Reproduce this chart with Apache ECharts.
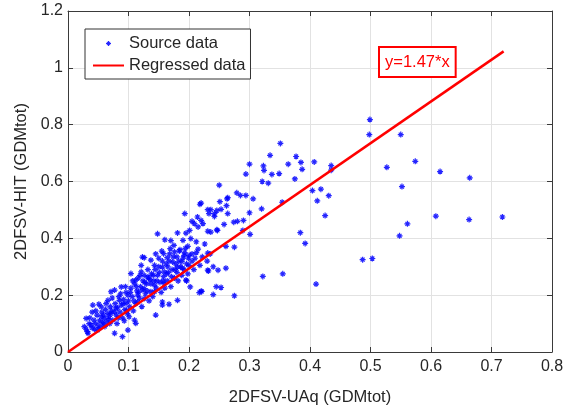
<!DOCTYPE html>
<html>
<head>
<meta charset="utf-8">
<script src="https://cdn.jsdelivr.net/npm/echarts@6/dist/echarts.min.js"></script>
<style>
html,body{margin:0;padding:0;background:#fff;}
#chart{width:579px;height:413px;}
</style>
</head>
<body>
<div id="chart"></div>
<script>
// ---- data ----
var xTickLabels = ['0','0.1','0.2','0.3','0.4','0.5','0.6','0.7','0.8'];
var yTickLabels = ['0','0.2','0.4','0.6','0.8','1','1.2'];
var seriesNames = ['Source data', 'Regressed data'];
var equationText = 'y=1.47*x';

// regressed line end points (y = 1.47 x)
var lineX = [0, 0.72];
var lineY = [0, 1.058];

// scatter points [x, y]
var sourceOutliers = [
[0.499,0.818],[0.498,0.765],[0.550,0.765],[0.527,0.650],[0.574,0.671],[0.552,0.582],[0.615,0.635],[0.664,0.613],[0.435,0.656],[0.435,0.640],[0.431,0.550],[0.608,0.478],[0.663,0.466],[0.718,0.475],[0.561,0.451],[0.548,0.409],[0.487,0.325],[0.503,0.329]
];
var sourceUpper = [
[0.351,0.734],[0.334,0.692],[0.300,0.661],[0.294,0.626],[0.323,0.655],[0.324,0.639],[0.337,0.625],[0.349,0.628],[0.364,0.661],[0.377,0.688],[0.385,0.667],[0.387,0.643],[0.407,0.669],[0.375,0.609],[0.321,0.600],[0.331,0.594],[0.250,0.587],[0.279,0.560],[0.285,0.551],[0.294,0.551],[0.306,0.539],[0.263,0.539],[0.251,0.529],[0.262,0.515],[0.264,0.487],[0.253,0.502],[0.246,0.498],[0.242,0.477],[0.231,0.501],[0.220,0.524],[0.300,0.490],[0.320,0.504],[0.354,0.527],[0.404,0.568],[0.418,0.573],[0.412,0.532],[0.425,0.480],[0.274,0.457],[0.280,0.460],[0.290,0.463],[0.258,0.449],[0.246,0.430],[0.231,0.425],[0.236,0.422],[0.220,0.463],[0.289,0.428],[0.301,0.414],[0.384,0.420],[0.392,0.382],[0.261,0.372],[0.275,0.369],[0.231,0.348],[0.232,0.285],[0.261,0.295],[0.322,0.266],[0.355,0.275],[0.410,0.239],[0.221,0.213],[0.253,0.227],[0.240,0.202],[0.275,0.198]
];
var sourceMiddle = [
[0.264,0.543],[0.218,0.520],[0.193,0.487],[0.236,0.501],[0.242,0.487],[0.233,0.487],[0.214,0.475],[0.223,0.452],[0.209,0.452],[0.201,0.428],[0.247,0.428],[0.181,0.419],[0.148,0.416],[0.190,0.393],[0.203,0.399],[0.169,0.364],[0.158,0.346],[0.164,0.332],[0.192,0.340],[0.173,0.317],[0.126,0.332],[0.137,0.323],[0.143,0.305],[0.156,0.299],[0.181,0.299],[0.159,0.282],[0.195,0.253],[0.231,0.288],[0.121,0.282],[0.132,0.264],[0.112,0.253],[0.159,0.241],[0.143,0.235],[0.126,0.223],[0.115,0.200],[0.137,0.212],[0.202,0.229],[0.220,0.214],[0.181,0.182],[0.167,0.168],[0.156,0.176],
[0.170,0.392],[0.175,0.375],[0.185,0.360],[0.198,0.372],[0.205,0.345],[0.212,0.388],[0.215,0.362],[0.180,0.335],[0.188,0.318],[0.200,0.305],[0.210,0.330],[0.165,0.300],[0.150,0.330],[0.155,0.355],[0.145,0.345],[0.160,0.395],[0.176,0.352],[0.195,0.418],[0.215,0.440],[0.205,0.460]
];
var sourceLower = [
[0.123,0.334],[0.121,0.305],[0.104,0.276],[0.071,0.212],[0.077,0.218],[0.088,0.229],[0.041,0.165],[0.055,0.159],[0.066,0.182],[0.085,0.182],[0.099,0.200],[0.096,0.171],[0.115,0.176],[0.126,0.188],[0.143,0.212],[0.030,0.118],[0.027,0.089],[0.038,0.095],[0.043,0.112],[0.055,0.124],[0.066,0.136],[0.077,0.141],[0.049,0.077],[0.033,0.066],[0.077,0.066],[0.090,0.054],[0.099,0.077],[0.101,0.124],[0.112,0.101],[0.110,0.112],[0.145,0.130],[0.156,0.165],[0.196,0.250],[0.217,0.209],[0.245,0.230],[0.248,0.288]
];
var sourceDense = [
[0.030,0.080],[0.035,0.100],[0.032,0.072],[0.040,0.085],[0.045,0.100],[0.048,0.130],[0.050,0.092],[0.052,0.110],[0.056,0.140],[0.058,0.098],[0.060,0.118],[0.062,0.150],[0.064,0.105],[0.068,0.125],[0.070,0.160],[0.072,0.145],[0.074,0.112],[0.078,0.170],[0.080,0.130],[0.082,0.155],[0.084,0.195],[0.086,0.140],[0.088,0.165],[0.090,0.120],[0.092,0.185],[0.094,0.150],[0.096,0.210],[0.098,0.135],[0.100,0.180],[0.102,0.160],[0.104,0.225],[0.106,0.195],[0.108,0.145],[0.110,0.240],[0.112,0.170],[0.114,0.215],[0.116,0.260],[0.118,0.190],[0.120,0.230],[0.122,0.160],[0.124,0.250],[0.126,0.270],[0.128,0.205],[0.130,0.240],[0.132,0.290],[0.134,0.180],[0.136,0.255],[0.138,0.275],[0.140,0.195],[0.142,0.250],[0.144,0.290],[0.146,0.225],[0.148,0.270],[0.150,0.300],[0.152,0.245],[0.154,0.210],[0.156,0.320],[0.158,0.265],[0.160,0.225],[0.162,0.310],[0.164,0.250],[0.166,0.280],[0.168,0.345],[0.170,0.230],[0.172,0.290],[0.174,0.335],[0.176,0.260],[0.178,0.310],[0.180,0.280],[0.182,0.250],[0.184,0.355],[0.186,0.300],[0.188,0.270],[0.190,0.330],[0.192,0.290],[0.194,0.365],[0.196,0.310],[0.198,0.275],[0.200,0.340],[0.205,0.320],[0.208,0.290],[0.212,0.350],[0.218,0.305],[0.222,0.335],[0.226,0.380],[0.230,0.320],[0.235,0.345],[0.240,0.300],
[0.046,0.145],[0.051,0.168],[0.059,0.130],[0.063,0.170],[0.067,0.115],[0.073,0.190],[0.079,0.155],[0.083,0.120],[0.087,0.205],[0.091,0.170],[0.095,0.230],[0.097,0.145],[0.103,0.210],[0.107,0.250],[0.109,0.180],[0.113,0.230],[0.117,0.210],[0.119,0.270],[0.123,0.220],[0.127,0.245],[0.131,0.215],[0.133,0.260],[0.137,0.240],[0.141,0.270],[0.147,0.250],[0.151,0.280],[0.157,0.250],[0.163,0.275],[0.167,0.320],[0.171,0.265],[0.177,0.290],[0.183,0.320],[0.189,0.295],[0.193,0.350],[0.199,0.330],[0.036,0.120],[0.040,0.140],[0.044,0.080],[0.053,0.085],[0.057,0.105],[0.061,0.090],[0.069,0.100],[0.071,0.135],[0.081,0.100],[0.093,0.110]
];

// ---- chart ----
var sourcePoints = [].concat(sourceOutliers, sourceUpper, sourceMiddle, sourceLower, sourceDense);
var linePoints = lineX.map(function (x, i) { return [x, lineY[i]]; });

var FONT = '"Liberation Sans", Arial, Helvetica, sans-serif';
var AXIS_COLOR = '#3a3a3a';
var TEXT_COLOR = '#262626';
var starPath = 'path://M4 0h2v10h-2z M0 4h10v2h-10z M1 2.4L2.4 1L9 7.6L7.6 9z M7.6 1L9 2.4L2.4 9L1 7.6z';

function baseAxis(min, max, interval) {
  return {
    type: 'value', min: min, max: max, interval: interval,
    axisLine: { show: true, onZero: false, lineStyle: { color: AXIS_COLOR, width: 1 } },
    axisTick: { show: true, inside: true, length: 5, lineStyle: { color: AXIS_COLOR, width: 1 } }
  };
}

var xMain = baseAxis(0, 0.8, 0.1);
xMain.position = 'bottom';
xMain.axisLabel = { margin: 7, fontSize: 16, color: TEXT_COLOR, fontFamily: FONT,
  formatter: function (v, i) { return xTickLabels[i]; } };
xMain.splitLine = { show: true, lineStyle: { color: '#e2e2e2', width: 1 } };
xMain.name = '2DFSV-UAq (GDMtot)';
xMain.nameLocation = 'middle';
xMain.nameGap = 37;
xMain.nameTextStyle = { fontSize: 16.5, color: TEXT_COLOR, fontFamily: FONT };

var xTop = baseAxis(0, 0.8, 0.1);
xTop.position = 'top';
xTop.axisLabel = { show: false };
xTop.splitLine = { show: false };

var yMain = baseAxis(0, 1.2, 0.2);
yMain.position = 'left';
yMain.axisLabel = { margin: 5, fontSize: 16, color: TEXT_COLOR, fontFamily: FONT,
  formatter: function (v, i) { return yTickLabels[i]; } };
yMain.splitLine = { show: true, lineStyle: { color: '#e2e2e2', width: 1 } };
yMain.name = '2DFSV-HIT (GDMtot)';
yMain.nameLocation = 'middle';
yMain.nameGap = 38;
yMain.nameTextStyle = { fontSize: 16.5, color: TEXT_COLOR, fontFamily: FONT };

var yRight = baseAxis(0, 1.2, 0.2);
yRight.position = 'right';
yRight.axisLabel = { show: false };
yRight.splitLine = { show: false };

var chart = echarts.init(document.getElementById('chart'), null, { renderer: 'canvas' });
chart.setOption({
  backgroundColor: '#ffffff',
  animation: false,
  grid: { left: 68, right: 27, top: 11, bottom: 61, containLabel: false },
  xAxis: [xMain, xTop],
  yAxis: [yMain, yRight],
  legend: {
    data: [
      { name: seriesNames[0] },
      { name: seriesNames[1], itemStyle: { color: 'rgba(0,0,0,0)', opacity: 0, borderWidth: 0 } }
    ],
    orient: 'vertical',
    left: 85, top: 29,
    padding: [6, 5, 5, 7],
    itemGap: 5,
    itemWidth: 31,
    itemHeight: 5,
    backgroundColor: '#ffffff',
    borderColor: '#333333',
    borderWidth: 1,
    borderRadius: 0,
    textStyle: { fontSize: 16.5, lineHeight: 17, color: TEXT_COLOR, fontFamily: FONT }
  },
  series: [
    {
      name: seriesNames[0],
      type: 'scatter',
      xAxisIndex: 0, yAxisIndex: 0,
      data: sourcePoints,
      symbol: starPath,
      symbolSize: 6,
      itemStyle: { color: '#0000ff', opacity: 0.85 },
      z: 2
    },
    {
      name: seriesNames[1],
      type: 'line',
      xAxisIndex: 0, yAxisIndex: 0,
      data: linePoints,
      symbol: 'none',
      lineStyle: { color: '#ff0000', width: 2.5 },
      itemStyle: { color: '#ff0000' },
      z: 3
    }
  ],
  graphic: [
    {
      type: 'text',
      left: 378, top: 46,
      z: 10,
      style: {
        text: equationText,
        fill: '#ff0000',
        fontSize: 16.5,
        fontFamily: FONT,
        backgroundColor: '#ffffff',
        borderColor: '#ff0000',
        borderWidth: 2,
        padding: [6, 5, 5, 5]
      }
    }
  ]
});
</script>
</body>
</html>
